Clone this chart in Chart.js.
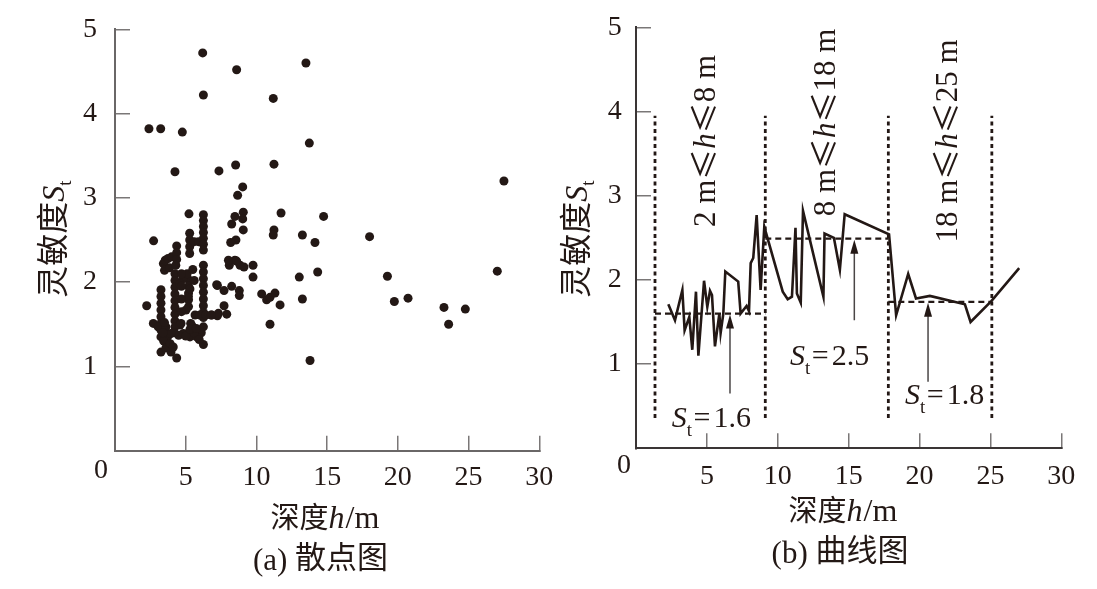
<!DOCTYPE html>
<html>
<head>
<meta charset="utf-8">
<script src="https://cdn.jsdelivr.net/npm/chart.js@4.4.1/dist/chart.umd.min.js"></script>
<style>
  html, body { margin: 0; padding: 0; background: #fff; }
  #wrap { position: relative; width: 1097px; height: 589px; }
  #wrap canvas { position: absolute; left: 0; top: 0; }
</style>
</head>
<body>
<div id="wrap">
  <canvas id="scatter" width="1097" height="589"></canvas>
  <canvas id="curve" width="1097" height="589"></canvas>
</div>
<script>
// (a) scatter: depth h (m) / sensitivity St
const scatterX = [
  6.20, 8.60, 13.50, 6.25, 11.19, 2.40, 3.23, 4.76, 13.74, 4.24, 7.35, 8.53, 11.24, 27.5, 9.03, 8.67,
  5.23, 9.07, 9.03, 8.48, 11.74, 14.75, 8.25, 9.07, 11.24, 11.19, 13.25, 18.0, 2.73, 14.14, 8.55, 8.18,
  8.08, 8.48, 8.84, 9.12, 9.76, 9.76, 14.33, 13.03, 19.26, 27.03, 7.24, 7.71, 8.25, 8.79, 8.79,
  10.37, 10.72, 10.96, 11.31, 11.67, 13.25, 19.75, 20.72, 23.26, 24.77, 23.59, 10.96, 13.79,
  2.24, 2.71, 3.25, 3.96, 4.36, 6.25, 7.71, 7.90, 7.24, 6.84, 7.31,
  3.25, 3.25, 3.25, 3.25, 3.25, 3.25, 3.25, 3.25,
  3.05, 3.55, 3.75, 3.45, 3.60, 3.90,
  3.42, 3.55, 3.75, 3.50, 3.85, 4.00,
  4.24, 4.24, 4.24, 4.24, 4.24, 4.24, 4.24, 4.24, 4.24,
  4.36, 4.36, 4.36, 4.30, 4.12,
  5.20, 5.20, 5.20, 5.20, 5.20,
  5.28, 5.28, 5.28, 5.28, 5.60, 5.90,
  6.25, 6.25, 6.25, 6.25, 6.25, 6.25, 6.25, 6.25, 6.25, 6.25, 6.25, 6.25, 6.25, 6.25, 6.25, 6.25,
  6.25, 6.10,
  4.60, 5.42, 5.30, 5.77, 4.83, 4.50, 5.00, 5.60, 5.95, 4.20, 3.95, 3.60,
  4.80, 5.10, 5.50, 5.60, 4.60,
  5.02, 4.67, 5.35, 5.19,
  5.66, 6.00, 6.40, 6.80, 7.19, 8.02, 8.60,
  4.70, 4.70, 4.70, 4.70,
  5.30, 5.30, 5.75, 3.40, 3.50
];
const scatterY = [
  4.72, 4.52, 4.60, 4.22, 4.18, 3.82, 3.82, 3.78, 3.65, 3.31, 3.32, 3.39, 3.40, 3.20, 3.13, 3.03,
  2.81, 2.83, 2.75, 2.78, 2.82, 2.78, 2.69, 2.62, 2.62, 2.56, 2.56, 2.54, 2.49, 2.47, 2.50, 2.47,
  2.20, 2.26, 2.20, 2.18, 2.20, 2.06, 2.12, 2.06, 2.07, 2.13, 1.96, 1.90, 1.95, 1.90, 1.84,
  1.86, 1.79, 1.82, 1.87, 1.73, 1.80, 1.77, 1.81, 1.70, 1.68, 1.50, 1.50, 1.07,
  1.72, 1.51, 1.17, 1.17, 1.10, 1.26, 1.72, 1.62, 1.60, 1.61, 1.63,
  1.91, 1.83, 1.75, 1.67, 1.59, 1.51, 1.43, 1.35,
  1.47, 1.42, 1.36, 1.30, 1.22, 1.27,
  2.22, 2.26, 2.28, 2.14, 2.17, 2.30,
  2.10, 2.02, 1.94, 1.86, 1.78, 1.70, 1.62, 1.54, 1.47,
  2.43, 2.35, 2.27, 2.20, 1.23,
  2.03, 1.95, 1.87, 1.79, 1.71,
  2.58, 2.50, 2.42, 2.34, 2.48, 2.48,
  2.80, 2.73, 2.66, 2.59, 2.52, 2.45, 2.38, 2.20, 2.12, 2.04, 1.96, 1.88, 1.80, 1.72, 1.64, 1.58,
  1.47, 1.40,
  1.49, 1.49, 1.35, 1.35, 1.39, 1.37, 1.36, 1.40, 1.32, 1.40, 1.39, 1.47,
  2.04, 2.10, 2.15, 2.02, 1.98,
  1.67, 1.51, 1.51, 1.83,
  1.61, 1.61, 1.61, 1.61, 1.97, 2.26, 2.25,
  2.10, 1.95, 1.80, 1.65,
  1.92, 1.44, 1.45, 1.40, 1.52
];

// (b) curve
const curveX = [2.28, 2.75, 3.27, 3.43, 3.76, 3.97, 4.23, 4.40, 4.80, 5.03, 5.22, 5.36, 5.57, 5.88, 5.97,
  6.16, 6.30, 7.21, 7.38, 7.80, 7.97, 8.09, 8.27, 8.51, 8.79, 9.05, 10.35, 10.70, 11.00, 11.25, 11.35,
  11.62, 11.78, 13.22, 13.30, 13.96, 14.38, 14.72, 17.85, 18.35, 19.20, 19.75, 20.73, 23.20, 23.60,
  25.08, 27.03];
const curveY = [1.71, 1.52, 1.88, 1.40, 1.56, 1.17, 1.86, 1.10, 1.99, 1.68, 1.87, 1.82, 1.21, 1.60, 1.37,
  1.60, 2.10, 1.98, 1.60, 1.69, 1.63, 2.20, 2.26, 2.77, 1.88, 2.63, 1.86, 1.77, 1.80, 2.62, 1.84,
  1.73, 2.82, 1.80, 2.55, 2.50, 2.12, 2.78, 2.54, 1.58, 2.07, 1.78, 1.81, 1.71, 1.50,
  1.75, 2.14];

// depth zones
const zoneEdges = [1.34, 9.12, 17.8, 25.1];
const zoneSpan = [0.36, 3.95];
const zoneLevel = [1.6, 2.49, 1.74];
const zoneMeanText = ['1.6', '2.5', '1.8'];
const zoneText = ['2 m≤h≤8 m', '8 m≤h≤18 m', '18 m≤h≤25 m'];
const arrowX = [6.63, 15.4, 20.6];
const arrowFrom = [0.65, 1.52, 0.79];

const INK = '#231815';
const SERIF = '"Liberation Serif", "Times New Roman", serif';
const CJK = '"Noto Sans CJK SC", "Noto Sans", sans-serif';

function runsWidth(ctx, parts) {
  let w = 0;
  parts.forEach(p => { ctx.font = p.font; w += ctx.measureText(p.text).width + (p.gap || 0); });
  return w;
}
function drawRuns(ctx, parts, x, y) {
  let cx = x;
  parts.forEach(p => {
    ctx.font = p.font;
    ctx.fillText(p.text, cx, y + (p.dy || 0));
    cx += ctx.measureText(p.text).width + (p.gap || 0);
  });
}
function drawCentered(ctx, parts, cx, y) {
  drawRuns(ctx, parts, cx - runsWidth(ctx, parts) / 2, y);
}
// rotated -90deg, reading bottom to top, centred on cy
function drawUp(ctx, parts, baseX, cy) {
  ctx.save();
  ctx.translate(baseX, cy);
  ctx.rotate(-Math.PI / 2);
  drawRuns(ctx, parts, -runsWidth(ctx, parts) / 2, 0);
  ctx.restore();
}

const xTitle = [
  { text: '深度', font: '29px ' + CJK },
  { text: 'h', font: 'italic 32px ' + SERIF, gap: 1 },
  { text: '/m', font: '32px ' + SERIF }
];
const yTitle = [
  { text: '灵敏度', font: '32px ' + CJK },
  { text: 'S', font: 'italic 32px ' + SERIF },
  { text: 't', font: '19px ' + SERIF, dy: 7 }
];
function caption(tag, word) {
  return [
    { text: tag + ' ', font: '31px ' + SERIF },
    { text: word, font: '31px ' + CJK, dy: -2 }
  ];
}
function zoneRuns(s) {
  return s.split(/(≤|h)/).filter(Boolean).map(t => ({
    text: t,
    font: t === '≤' ? '31px ' + CJK : (t === 'h' ? 'italic 31px ' + SERIF : '31px ' + SERIF)
  }));
}
function stRuns(v) {
  return [
    { text: 'S', font: 'italic 30px ' + SERIF },
    { text: 't', font: '19px ' + SERIF, dy: 9, gap: 1.5 },
    { text: '=', font: '30px ' + SERIF, gap: 3 },
    { text: v, font: '30px ' + SERIF }
  ];
}

// tick padding is also added to the scale's edge padding; drop that so
// the layout padding alone places the plot area
function noEdgePad(s) {
  s.paddingTop = 0; s.paddingBottom = 0; s.paddingLeft = 0; s.paddingRight = 0;
}

function scales(o) {
  const tickFont = { family: SERIF, size: 28, lineHeight: 1 };
  const grid = {
    display: true, drawOnChartArea: false, drawTicks: true, tickLength: -15, lineWidth: 1.5,
    color: c => (c.tick && c.tick.value === 0) ? 'rgba(0,0,0,0)' : o.tick
  };
  return {
    x: {
      type: 'linear', min: 0, max: 30,
      afterFit: s => { s.height = o.xh; noEdgePad(s); },
      border: { display: true, color: o.axis, width: 2 },
      grid: grid,
      ticks: { stepSize: 5, autoSkip: false, maxRotation: 0, padding: o.xpad, color: INK, font: tickFont,
        callback: v => v === 0 ? '' : v }
    },
    y: {
      type: 'linear', min: 0, max: 5,
      afterFit: s => { s.width = o.yw; noEdgePad(s); },
      border: { display: true, color: o.axis, width: 2 },
      grid: grid,
      ticks: { stepSize: 1, autoSkip: false, padding: o.ypad, color: INK, font: tickFont,
        callback: v => v === 0 ? '' : v }
    }
  };
}

function frameText(o) {
  return {
    id: 'frameText',
    afterDraw(chart) {
      const ctx = chart.ctx, a = chart.chartArea;
      ctx.save();
      ctx.fillStyle = INK;
      ctx.textBaseline = 'alphabetic';
      drawCentered(ctx, xTitle, o.titleX, o.titleY);
      drawCentered(ctx, caption(o.tag, o.word), o.capX, o.capY);
      drawUp(ctx, yTitle, o.yTitleX, o.yTitleY);
      ctx.font = '28px ' + SERIF;
      ctx.textAlign = 'center';
      ctx.textBaseline = 'middle';
      ctx.fillText('0', a.left - o.zeroDx, a.bottom + o.zeroDy);
      ctx.restore();
    }
  };
}

Chart.defaults.font.family = SERIF;
Chart.defaults.color = INK;

// ---- (a) ----
new Chart(document.getElementById('scatter'), {
  type: 'scatter',
  data: {
    datasets: [{
      data: scatterX.map((x, i) => ({ x: x, y: scatterY[i] })),
      pointRadius: 4.5, pointBackgroundColor: INK, pointBorderWidth: 0, borderColor: INK
    }]
  },
  options: {
    responsive: false, animation: false, devicePixelRatio: 1,
    layout: { padding: { left: 0, top: 29.3, right: 557.7, bottom: 0 } },
    plugins: { legend: { display: false }, tooltip: { enabled: false } },
    scales: scales({ xh: 138.3, yw: 115, axis: '#6a6767', tick: '#7a7777', xpad: 28, ypad: 33 })
  },
  plugins: [frameText({ tag: '(a)', word: '散点图', titleX: 325, titleY: 528, capX: 320.5, capY: 570,
    yTitleX: 64, yTitleY: 239, zeroDx: 14, zeroDy: 19.6 })]
});

// ---- (b) ----
const bSets = [{
  data: curveX.map((x, i) => ({ x: x, y: curveY[i] })),
  showLine: true, borderColor: INK, borderWidth: 2.6, pointRadius: 0, borderJoinStyle: 'miter'
}];
zoneEdges.forEach(e => bSets.push({
  data: [{ x: e, y: zoneSpan[0] }, { x: e, y: zoneSpan[1] }],
  showLine: true, borderColor: INK, borderWidth: 2.8, borderDash: [4, 3.5], pointRadius: 0
}));
zoneLevel.forEach((lv, i) => bSets.push({
  data: [{ x: zoneEdges[i], y: lv }, { x: zoneEdges[i + 1], y: lv }],
  showLine: true, borderColor: INK, borderWidth: 2.2, borderDash: [6, 4], pointRadius: 0
}));
arrowX.forEach((ax, i) => bSets.push({
  data: [{ x: ax, y: arrowFrom[i] }, { x: ax, y: zoneLevel[i] - 0.1 }],
  showLine: true, borderColor: '#4a4646', borderWidth: 1.5, pointRadius: 0
}));

const zoneNotes = {
  id: 'zoneNotes',
  afterDatasetsDraw(chart) {
    const ctx = chart.ctx, xs = chart.scales.x, ys = chart.scales.y;
    ctx.save();
    ctx.fillStyle = INK;
    // arrow heads
    arrowX.forEach((ax, i) => {
      const px = xs.getPixelForValue(ax), py = ys.getPixelForValue(zoneLevel[i]);
      ctx.beginPath();
      ctx.moveTo(px, py + 1);
      ctx.lineTo(px - 4, py + 15);
      ctx.lineTo(px + 4, py + 15);
      ctx.closePath();
      ctx.fill();
    });
    // St labels: [x of S, baseline y]
    const stPos = [[2.52, 0.257], [10.86, 0.99], [18.97, 0.526]];
    ctx.textBaseline = 'alphabetic';
    stPos.forEach((p, i) => {
      drawRuns(ctx, stRuns(zoneMeanText[i]), xs.getPixelForValue(p[0]), ys.getPixelForValue(p[1]));
    });
    // rotated zone ranges: centre positions
    const zonePos = [[4.87, 3.65], [13.33, 3.87], [21.91, 3.65]];
    zonePos.forEach((p, i) => {
      drawUp(ctx, zoneRuns(zoneText[i]), xs.getPixelForValue(p[0]) + 10, ys.getPixelForValue(p[1]));
    });
    ctx.restore();
  }
};

new Chart(document.getElementById('curve'), {
  type: 'scatter',
  data: { datasets: bSets },
  options: {
    responsive: false, animation: false, devicePixelRatio: 1,
    layout: { padding: { left: 0, top: 27.3, right: 35.7, bottom: 0 } },
    plugins: { legend: { display: false }, tooltip: { enabled: false } },
    scales: scales({ xh: 140.7, yw: 636, axis: '#3a3535', tick: '#7a7777', xpad: 29, ypad: 29.3 })
  },
  plugins: [zoneNotes, frameText({ tag: '(b)', word: '曲线图', titleX: 843, titleY: 521, capX: 840, capY: 563,
    yTitleX: 587, yTitleY: 239, zeroDx: 12, zeroDy: 17.7 })]
});
</script>
</body>
</html>
